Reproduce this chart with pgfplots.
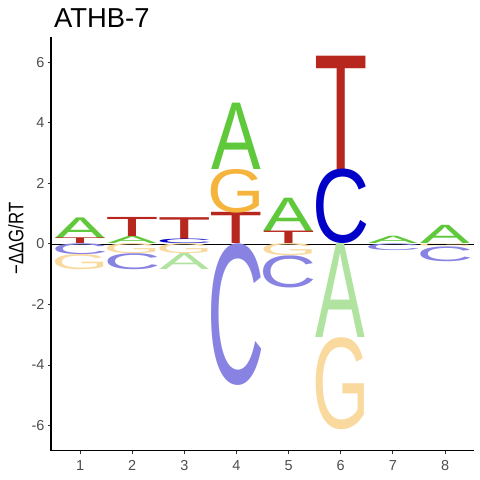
\documentclass[border=0pt]{standalone}
\usepackage{pgfplots}
\pgfplotsset{compat=1.18}
\usepackage{graphicx}
\usepackage{fontspec}
\setmainfont{Liberation Sans}
\newdimen\ylen \ylen=30.28bp
\definecolor{cA}{HTML}{5FC83B}
\definecolor{cC}{HTML}{0000C8}
\definecolor{cG}{HTML}{F5B43C}
\definecolor{cT}{HTML}{B8271E}
\definecolor{nA}{HTML}{B0E3A0}
\definecolor{nC}{HTML}{8883E2}
\definecolor{nG}{HTML}{F9D99D}
\definecolor{tl}{HTML}{4D4D4D}
\definecolor{tk}{HTML}{333333}
\pgfplotsset{
  logo/.style n args={3}{draw=none, mark=none, forget plot,
    visualization depends on={value \thisrow{h}\as\hgt},
    nodes near coords={\resizebox*{#2}{\hgt\ylen}{#1}},
    every node near coord/.style={anchor=south, inner sep=0pt, outer sep=0pt, text=#3}},
}
\begin{document}
\begin{tikzpicture}
\useasboundingbox (-51bp,-29.3bp) rectangle (429bp,450.7bp);
\begin{axis}[
  at={(0,0)}, anchor=south west,
  x=52.14bp, y=30.28bp,
  xmin=0.443, xmax=8.556, ymin=-6.83, ymax=6.83,
  axis x line*=bottom, axis y line*=left,
  axis line style={-, line width=1.1bp, black},
  xtick={1,...,8}, ytick={-6,-4,...,6},
  tick align=outside, major tick length=3bp,
  tick style={line width=1bp, tk},
  /pgf/number format/assume math mode=true,
  ticklabel style={font=\fontsize{14.5}{15}\selectfont, text=tl},
  xticklabel style={yshift=-3bp},
  clip=false,
  title={ATHB-7},
  title style={at={(axis description cs:0,1)}, anchor=base west, yshift=4bp, xshift=3bp, inner sep=0pt, font=\fontsize{27.5}{30}\selectfont},
  ylabel={\scalebox{0.8}[1]{−ΔΔG/RT}},
  ylabel style={at={(axis description cs:-0.083,0.513)}, anchor=center, inner sep=0pt, font=\fontsize{21}{24}\selectfont},
]
% positive letters: x, bottom y, height
\addplot[logo={A}{49.7bp}{cA}] table {
x y h
1 0.19 0.68
2 0 0.24
4 2.47 2.19
5 0.41 1.10
7 0 0.24
8 0 0.60
};
\addplot[logo={T}{53.4bp}{cT}] table {
x y h
1 0 0.19
2 0.24 0.63
3 0.15 0.72
4 0 1.03
5 0 0.41
6 2.46 3.74
};
\addplot[logo={C}{57.2bp}{cC}] table {
x y h
3 0 0.15
6 0 2.46
};
\addplot[logo={G}{57.4bp}{cG}] table {
x y h
4 1.03 1.44
};
% negative letters
\addplot[logo={A}{49.7bp}{nA}] table {
x y h
3 -0.86 0.53
6 -3.10 3.10
};
\addplot[logo={C}{57.2bp}{nC}] table {
x y h
1 -0.36 0.36
2 -0.86 0.53
4 -4.68 4.68
5 -1.46 1.06
7 -0.22 0.22
8 -0.58 0.49
};
\addplot[logo={G}{57.4bp}{nG}] table {
x y h
1 -0.86 0.50
2 -0.33 0.33
3 -0.33 0.33
5 -0.40 0.40
6 -6.14 3.04
8 -0.09 0.09
};
\addplot[black, line width=0.7bp, forget plot] coordinates {(0.443,0) (8.556,0)};
\end{axis}
\end{tikzpicture}
\end{document}
